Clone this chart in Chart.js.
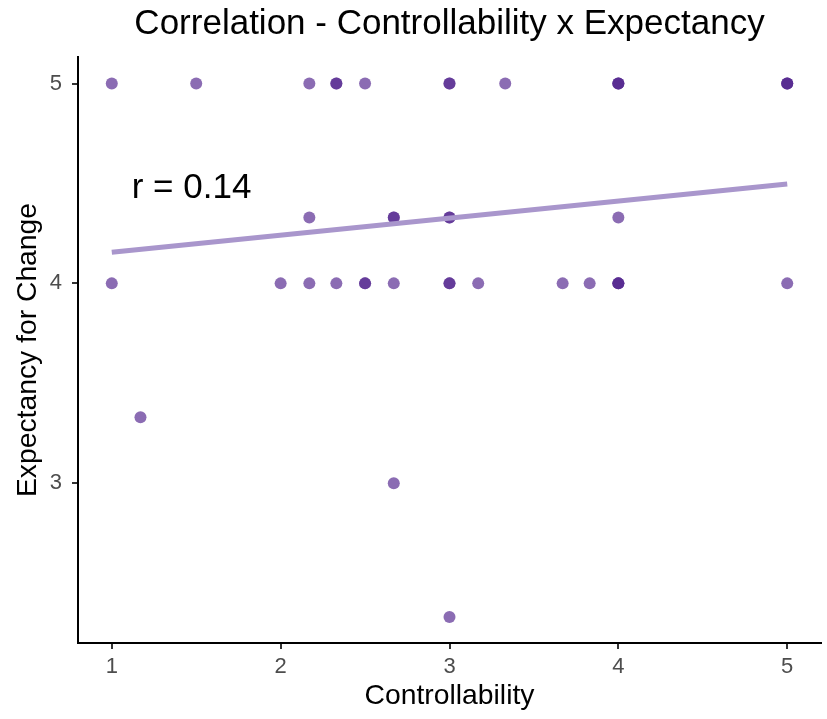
<!DOCTYPE html>
<html>
<head>
<meta charset="utf-8">
<script src="https://cdn.jsdelivr.net/npm/chart.js@4.4.1/dist/chart.umd.min.js"></script>
<style>
  html, body { margin: 0; padding: 0; background: #fff; }
  #wrap { width: 827px; height: 719px; }
</style>
</head>
<body>
<div id="wrap"><canvas id="corrChart" width="827" height="719"></canvas></div>
<script>
// 점 데이터 (겹치는 점은 반복해서 넣어 진하게 보이도록)
const controllability = [
  1, 1.5, 2.17, 2.33, 2.33, 2.5, 3, 3, 3.33, 4, 4, 4, 5, 5, 5,
  2.17, 2.67, 2.67, 3, 3, 4,
  1, 2, 2.17, 2.33, 2.5, 2.5, 2.67, 3, 3, 3.17, 3.67, 3.83, 4, 4, 4, 5,
  1.17, 2.67, 3
];
const expectancy = [
  5, 5, 5, 5, 5, 5, 5, 5, 5, 5, 5, 5, 5, 5, 5,
  4.33, 4.33, 4.33, 4.33, 4.33, 4.33,
  4, 4, 4, 4, 4, 4, 4, 4, 4, 4, 4, 4, 4, 4, 4, 4,
  3.33, 3, 2.33
];

// 회귀선 양 끝점
const fitX = [1, 5];
const fitY = [4.156, 4.497];

const xTicks = [1, 2, 3, 4, 5];
const yTicks = [3, 4, 5];

const titleText = 'Correlation - Controllability x Expectancy';
const xTitle = 'Controllability';
const yTitle = 'Expectancy for Change';
const rLabel = 'r = 0.14';
const rLabelPos = { x: 1.118, y: 4.427 };

const FONT = '"Liberation Sans", Arial, Helvetica, sans-serif';

const points = controllability.map((x, i) => ({ x: x, y: expectancy[i] }));
const fitLine = fitX.map((x, i) => ({ x: x, y: fitY[i] }));

// 제목, 축 제목, r 값 텍스트를 직접 그리는 플러그인
const textPlugin = {
  id: 'textPlugin',
  afterDraw(chart) {
    const ctx = chart.ctx;
    const area = chart.chartArea;
    const xs = chart.scales.x;
    const ys = chart.scales.y;
    const cx = (area.left + area.right) / 2;
    ctx.save();
    ctx.fillStyle = '#000';
    ctx.textBaseline = 'alphabetic';

    ctx.font = '35px ' + FONT;
    ctx.textAlign = 'center';
    ctx.fillText(titleText, cx, 34);

    ctx.font = '28.3px ' + FONT;
    ctx.fillText(xTitle, cx, 704);

    ctx.save();
    ctx.translate(36, (area.top + area.bottom) / 2);
    ctx.rotate(-Math.PI / 2);
    ctx.fillText(yTitle, 0, 0);
    ctx.restore();

    ctx.font = '35px ' + FONT;
    ctx.textAlign = 'left';
    ctx.fillText(rLabel, xs.getPixelForValue(rLabelPos.x), ys.getPixelForValue(rLabelPos.y));
    ctx.restore();
  }
};

new Chart(document.getElementById('corrChart').getContext('2d'), {
  type: 'scatter',
  data: {
    datasets: [
      {
        type: 'line',
        data: fitLine,
        borderColor: '#a996cc',
        borderWidth: 5,
        pointRadius: 0,
        fill: false,
        order: 0
      },
      {
        data: points,
        backgroundColor: 'rgba(84, 39, 143, 0.68)',
        borderWidth: 0,
        pointRadius: 6,
        order: 1
      }
    ]
  },
  options: {
    responsive: false,
    animation: false,
    layout: { padding: { top: 57, left: 0, right: 6, bottom: 0 } },
    plugins: {
      legend: { display: false },
      tooltip: { enabled: false },
      title: { display: false }
    },
    scales: {
      x: {
        type: 'linear',
        min: 0.8,
        max: 5.2,
        afterFit(scale) { scale.height = 76; },
        afterBuildTicks(scale) { scale.ticks = xTicks.map(v => ({ value: v })); },
        grid: { drawOnChartArea: false, drawTicks: true, tickLength: 6, color: '#333', lineWidth: 2 },
        border: { display: true, color: '#000', width: 2 },
        ticks: { color: '#4d4d4d', font: { family: FONT, size: 22 }, padding: 5, callback: v => String(v) }
      },
      y: {
        type: 'linear',
        min: 2.2,
        max: 5.133,
        afterFit(scale) { scale.width = 78; },
        afterBuildTicks(scale) { scale.ticks = yTicks.map(v => ({ value: v })); },
        grid: { drawOnChartArea: false, drawTicks: true, tickLength: 6, color: '#333', lineWidth: 2 },
        border: { display: true, color: '#000', width: 2 },
        ticks: { color: '#4d4d4d', font: { family: FONT, size: 22 }, padding: 10, callback: v => String(v) }
      }
    }
  },
  plugins: [textPlugin]
});
</script>
</body>
</html>
